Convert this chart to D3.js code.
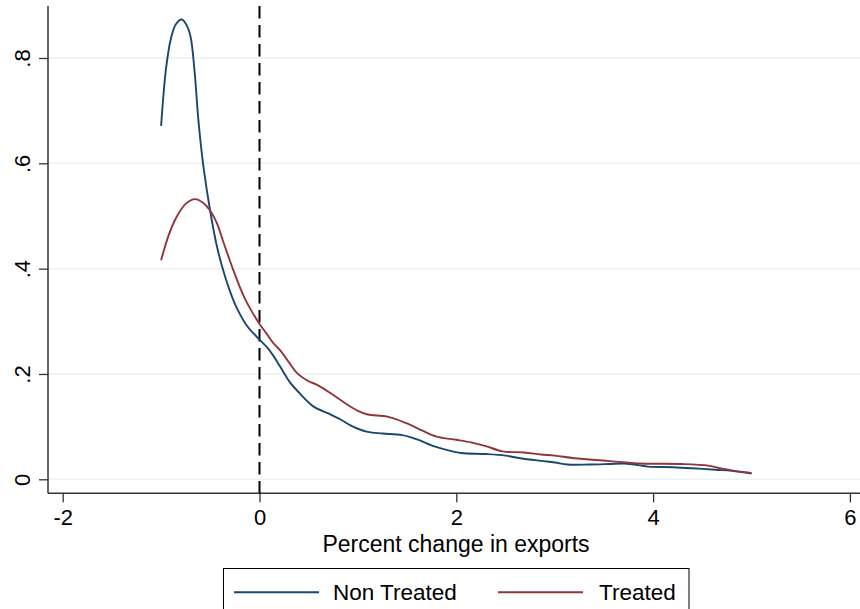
<!DOCTYPE html>
<html>
<head>
<meta charset="utf-8">
<script src="https://cdn.jsdelivr.net/npm/d3@7"></script>
<style>
  html, body { margin: 0; padding: 0; background: #fff; }
  svg { display: block; }
  text { font-family: "Liberation Sans", Arial, Helvetica, sans-serif; fill: #000; }
</style>
</head>
<body>
<svg id="chart" width="860" height="609"></svg>
<script>
// ---- data ----
const xTicks = [-2, 0, 2, 4, 6];
const xTickLabels = ["-2", "0", "2", "4", "6"];
const yTicks = [0, 0.2, 0.4, 0.6, 0.8];
const yTickLabels = ["0", ".2", ".4", ".6", ".8"];
const xTitle = "Percent change in exports";
const seriesNames = ["Non Treated", "Treated"];
const refLineX = 0;

const nonTreatedX = [-1.0, -0.95, -0.90, -0.85, -0.79, -0.74, -0.70, -0.66, -0.62, -0.57, -0.50, -0.43, -0.35, -0.28, -0.23, -0.13, -0.05, 0, 0.075, 0.15, 0.21, 0.31, 0.40, 0.55, 0.70, 0.82, 0.92, 1.0, 1.10, 1.25, 1.45, 1.60, 1.77, 1.90, 2.05, 2.30, 2.50, 2.65, 2.86, 3.0, 3.13, 3.35, 3.55, 3.71, 3.85, 3.95, 4.2, 4.4, 4.63, 4.8, 5.0];
const nonTreatedY = [0.671, 0.78, 0.837, 0.864, 0.873, 0.862, 0.84, 0.775, 0.68, 0.594, 0.508, 0.44, 0.385, 0.347, 0.325, 0.292, 0.275, 0.265, 0.251, 0.232, 0.214, 0.184, 0.165, 0.138, 0.125, 0.114, 0.103, 0.096, 0.090, 0.087, 0.084, 0.076, 0.063, 0.056, 0.050, 0.048, 0.045, 0.040, 0.035, 0.032, 0.028, 0.028, 0.029, 0.030, 0.027, 0.024, 0.023, 0.021, 0.018, 0.016, 0.011];

const treatedX = [-1.0, -0.92, -0.84, -0.75, -0.655, -0.58, -0.50, -0.43, -0.37, -0.31, -0.25, -0.2, -0.146, -0.07, 0, 0.07, 0.143, 0.21, 0.30, 0.38, 0.48, 0.60, 0.75, 0.89, 1.0, 1.10, 1.30, 1.50, 1.65, 1.80, 2.0, 2.15, 2.3, 2.47, 2.69, 2.86, 3.0, 3.2, 3.54, 3.88, 4.29, 4.56, 4.66, 4.80, 5.0];
const treatedY = [0.416, 0.465, 0.499, 0.523, 0.532, 0.526, 0.510, 0.485, 0.452, 0.420, 0.389, 0.365, 0.342, 0.316, 0.295, 0.277, 0.258, 0.245, 0.222, 0.202, 0.188, 0.178, 0.160, 0.142, 0.130, 0.123, 0.119, 0.106, 0.093, 0.081, 0.075, 0.070, 0.063, 0.053, 0.051, 0.047, 0.045, 0.040, 0.035, 0.030, 0.029, 0.026, 0.022, 0.017, 0.012];

const colors = ["#1a476f", "#90353b"];

// ---- layout ----
const svg = d3.select("#chart");
const plotLeft = 48, plotRight = 860, plotTop = 6, plotBottom = 493.3;

const x = d3.scaleLinear().domain([-2, 6]).range([62.7, 849.9]);
const y = d3.scaleLinear().domain([0, 0.8]).range([479.3, 58]);

svg.append("rect").attr("width", 860).attr("height", 609).attr("fill", "#fff");

// gridlines
svg.append("g").selectAll("line").data(yTicks).join("line")
  .attr("x1", plotLeft).attr("x2", plotRight)
  .attr("y1", d => y(d)).attr("y2", d => y(d))
  .attr("stroke", "#eaf2f3").attr("stroke-width", 1.5);

// y axis
const yAxis = d3.axisLeft(y).tickValues(yTicks).tickSize(9)
  .tickFormat((d, i) => yTickLabels[i]);
const gy = svg.append("g").attr("transform", `translate(${plotLeft},0)`).call(yAxis);
gy.select(".domain").remove();
gy.selectAll(".tick line").attr("stroke", "#333").attr("stroke-width", 1.3);
gy.selectAll(".tick text")
  .attr("x", null).attr("dy", null)
  .attr("transform", "translate(-18,0) rotate(-90)")
  .attr("text-anchor", "middle")
  .attr("font-size", 22)
  .style("font-family", '"Liberation Sans", Arial, sans-serif');

// x axis
const xAxis = d3.axisBottom(x).tickValues(xTicks).tickSize(9)
  .tickFormat((d, i) => xTickLabels[i]);
const gx = svg.append("g").attr("transform", `translate(0,${plotBottom})`).call(xAxis);
gx.select(".domain").remove();
gx.selectAll(".tick line").attr("stroke", "#333").attr("stroke-width", 1.3);
gx.selectAll(".tick text")
  .attr("y", 32).attr("dy", null)
  .attr("font-size", 22)
  .style("font-family", '"Liberation Sans", Arial, sans-serif');

// axis lines
svg.append("line").attr("x1", plotLeft).attr("x2", plotLeft)
  .attr("y1", plotTop).attr("y2", plotBottom)
  .attr("stroke", "#333").attr("stroke-width", 1.5);
svg.append("line").attr("x1", plotLeft).attr("x2", plotRight)
  .attr("y1", plotBottom).attr("y2", plotBottom)
  .attr("stroke", "#333").attr("stroke-width", 1.5);

// reference dashed line
svg.append("line")
  .attr("x1", x(refLineX)).attr("x2", x(refLineX))
  .attr("y1", plotTop).attr("y2", plotBottom)
  .attr("stroke", "#000").attr("stroke-width", 2)
  .attr("stroke-dasharray", "12.5,6.5");

// curves
const line = d3.line().x(d => x(d[0])).y(d => y(d[1])).curve(d3.curveCatmullRom.alpha(0.5));
const series = [
  d3.zip(nonTreatedX, nonTreatedY),
  d3.zip(treatedX, treatedY)
];
svg.append("g").selectAll("path").data(series).join("path")
  .attr("d", line)
  .attr("fill", "none")
  .attr("stroke", (d, i) => colors[i])
  .attr("stroke-width", 1.9)
  .attr("stroke-linejoin", "round");

// x title
svg.append("text")
  .attr("x", 456).attr("y", 552)
  .attr("text-anchor", "middle")
  .attr("font-size", 23)
  .text(xTitle);

// legend
const lg = svg.append("g");
lg.append("rect")
  .attr("x", 223.5).attr("y", 568.5).attr("width", 465.5).attr("height", 60)
  .attr("fill", "#fff").attr("stroke", "#000").attr("stroke-width", 1);
const legendItems = [
  { x1: 234, x2: 319, tx: 333 },
  { x1: 498, x2: 583, tx: 599 }
];
legendItems.forEach((it, i) => {
  lg.append("line")
    .attr("x1", it.x1).attr("x2", it.x2)
    .attr("y1", 592.3).attr("y2", 592.3)
    .attr("stroke", colors[i]).attr("stroke-width", 1.9);
  lg.append("text")
    .attr("x", it.tx).attr("y", 599.5)
    .attr("font-size", 22.5)
    .text(seriesNames[i]);
});
</script>
</body>
</html>
